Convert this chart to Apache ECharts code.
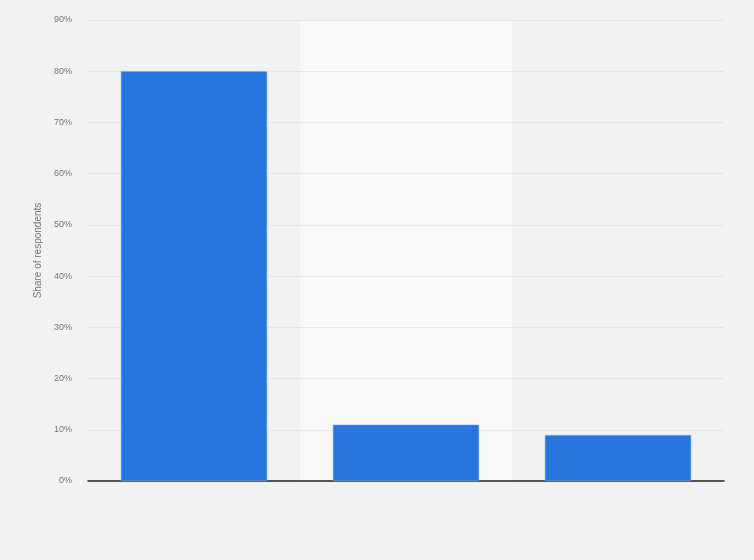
<!DOCTYPE html>
<html>
<head>
<meta charset="utf-8">
<script src="https://cdn.jsdelivr.net/npm/echarts@6/dist/echarts.min.js"></script>
<style>
  html, body { margin: 0; padding: 0; background: #f2f2f2; }
  #chart { width: 754px; height: 560px; }
</style>
</head>
<body>
<div id="chart"></div>
<script>
const categories = ['', ' ', '  '];
const shares     = [80, 11, 9];
const yTicks     = [0, 10, 20, 30, 40, 50, 60, 70, 80, 90];

const chart = echarts.init(document.getElementById('chart'));

chart.setOption({
    backgroundColor: '#f2f2f2',
    textStyle: { fontFamily: 'Arial, Liberation Sans, sans-serif' },
    grid: { left: 88, right: 30, top: 20, bottom: 79 },
    xAxis: {
        type: 'category',
        data: categories,
        z: 0,
        axisLine: { lineStyle: { color: '#222', width: 1.5 } },
        axisTick: { show: false },
        axisLabel: { show: false },
        splitArea: { show: true, areaStyle: { color: ['rgba(0,0,0,0)', '#f8f8f8'] } }
    },
    yAxis: {
        type: 'value',
        z: 1,
        min: yTicks[0],
        max: yTicks[yTicks.length - 1],
        interval: 10,
        name: 'Share of respondents',
        nameLocation: 'middle',
        nameGap: 42,
        nameTextStyle: { color: '#777', fontSize: 10 },
        axisLine: { show: false },
        axisTick: { show: false },
        axisLabel: { color: '#777', fontSize: 9, formatter: '{value}%', margin: 16 },
        splitLine: { showMinLine: false, lineStyle: { color: '#d8d8d8', type: [1, 1] } }
    },
    series: [{
        type: 'bar',
        z: 3,
        data: shares,
        barWidth: '69%',
        itemStyle: { color: '#2876dd', borderColor: '#7fb0ef', borderWidth: 0.5 }
    }]
});
</script>
</body>
</html>
